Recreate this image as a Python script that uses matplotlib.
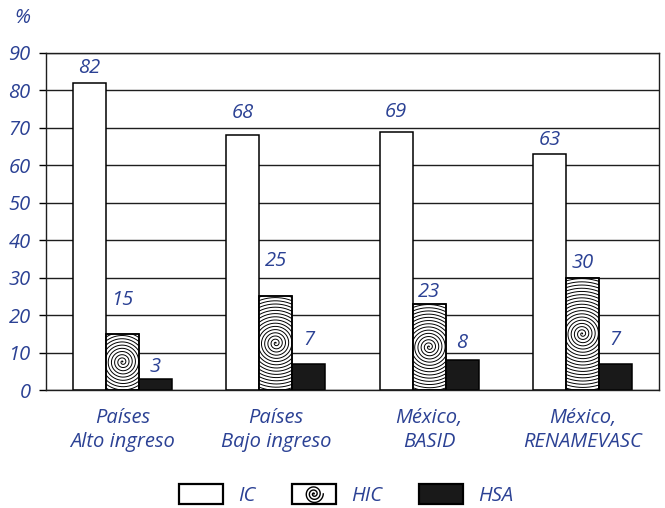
import numpy as np
import matplotlib
matplotlib.use("Agg")
import matplotlib.pyplot as plt
from matplotlib.patches import Rectangle
from matplotlib.lines import Line2D
from matplotlib.legend_handler import HandlerBase
from matplotlib.transforms import ScaledTranslation

plt.rcParams['font.family'] = ['Open Sans', 'DejaVu Sans']

categories = ["Países\nAlto ingreso", "Países\nBajo ingreso", "México,\nBASID", "México,\nRENAMEVASC"]
series_names = ["IC", "HIC", "HSA"]
ic_values = [82, 68, 69, 63]
hic_values = [15, 25, 23, 30]
hsa_values = [3, 7, 8, 7]
y_ticks = [0, 10, 20, 30, 40, 50, 60, 70, 80, 90]

# label offsets above bar tops (pixels), as placed in the original
ic_label_off = [15, 22, 20, 14]
hic_label_off = [34, 35, 12, 15]
hsa_label_off = [12, 24, 17, 24]

BLUE = '#2b4194'
FS = 14.5

fig = plt.figure(figsize=(6.65, 5.08), dpi=100)
ax = fig.add_axes([46/665, 1-390/508, (659-46)/665, (390-53)/508])

x = np.arange(len(categories))
w = 0.215
bars_ic = ax.bar(x - w, ic_values, w, facecolor='white', edgecolor='black', lw=1.1, zorder=2)
bars_hic = ax.bar(x, hic_values, w, facecolor='white', edgecolor='black', lw=1.1, zorder=2)
bars_hsa = ax.bar(x + w, hsa_values, w, facecolor='#191919', edgecolor='black', lw=1.1, zorder=2)

# spiral fill for HIC bars
spacing = 0.032  # inches between turns
theta = np.linspace(0, 2*np.pi*24, 12000)
r = spacing * theta / (2*np.pi)
sx, sy = r*np.cos(theta), r*np.sin(theta)
for xi, v, patch in zip(x, hic_values, bars_hic.patches):
    tr = fig.dpi_scale_trans + ScaledTranslation(xi, v/2, ax.transData)
    ln = Line2D(sx, sy, color='black', lw=0.7, transform=tr, zorder=2.5)
    ax.add_artist(ln)
    ln.set_clip_path(patch.get_path(), patch.get_transform())
# redraw HIC outlines on top
ax.bar(x, hic_values, w, facecolor='none', edgecolor='black', lw=1.1, zorder=2.6)

ax.set_xlim(-0.5, 3.5)
ax.set_ylim(0, 90)
ax.set_yticks(y_ticks)
ax.set_yticklabels([str(t) for t in y_ticks], fontsize=FS, style='italic', color=BLUE)
ax.set_xticks(x)
ax.set_xticklabels(categories, fontsize=FS, style='italic', color=BLUE, linespacing=1.25)
ax.tick_params(axis='x', length=0, pad=13)
ax.tick_params(axis='y', direction='out', length=5, width=1, pad=6)
ax.yaxis.grid(True, color='#1e1e1e', lw=1.0)
ax.set_axisbelow(True)
for s in ax.spines.values():
    s.set_color('#1e1e1e')
    s.set_linewidth(1.0)

px2pt = 72/100
for bars, vals, offs in [(bars_ic, ic_values, ic_label_off),
                         (bars_hic, hic_values, hic_label_off),
                         (bars_hsa, hsa_values, hsa_label_off)]:
    for p, v, o in zip(bars.patches, vals, offs):
        ax.annotate(str(v), (p.get_x() + p.get_width()/2, v), xytext=(0, o*px2pt),
                    textcoords='offset points', ha='center', va='center',
                    fontsize=FS, style='italic', color=BLUE)

fig.text(22/665, 1-18/508, '%', fontsize=FS, style='italic', color=BLUE, ha='center', va='center')


class SpiralHandler(HandlerBase):
    def create_artists(self, legend, orig_handle, xdescent, ydescent, width, height, fontsize, trans):
        rect = Rectangle((-xdescent, -ydescent), width, height, facecolor='white',
                         edgecolor='black', lw=1.6, transform=trans)
        cx, cy = -xdescent + width/2, -ydescent + height/2
        th = np.linspace(0, 2*np.pi*3, 600)
        rr = (height*0.16) * th/(2*np.pi)
        ln = Line2D(cx + rr*np.cos(th), cy + rr*np.sin(th), color='black', lw=1.0, transform=trans)
        return [rect, ln]


h_ic = Rectangle((0, 0), 1, 1, facecolor='white', edgecolor='black', lw=1.6)
h_hic = Rectangle((0, 0), 1, 1, facecolor='white', edgecolor='black', lw=1.6)
h_hsa = Rectangle((0, 0), 1, 1, facecolor='#191919', edgecolor='black', lw=1.6)
leg = fig.legend([h_ic, h_hic, h_hsa], series_names, loc='center',
                 bbox_to_anchor=(346/665, 1-495/508), ncol=3, frameon=False,
                 handlelength=2.2, handleheight=1.1, handletextpad=0.75,
                 columnspacing=1.8, handler_map={h_hic: SpiralHandler()},
                 prop={'size': FS, 'style': 'italic'})
for t in leg.get_texts():
    t.set_color(BLUE)

fig.savefig('out.png', dpi=100)
